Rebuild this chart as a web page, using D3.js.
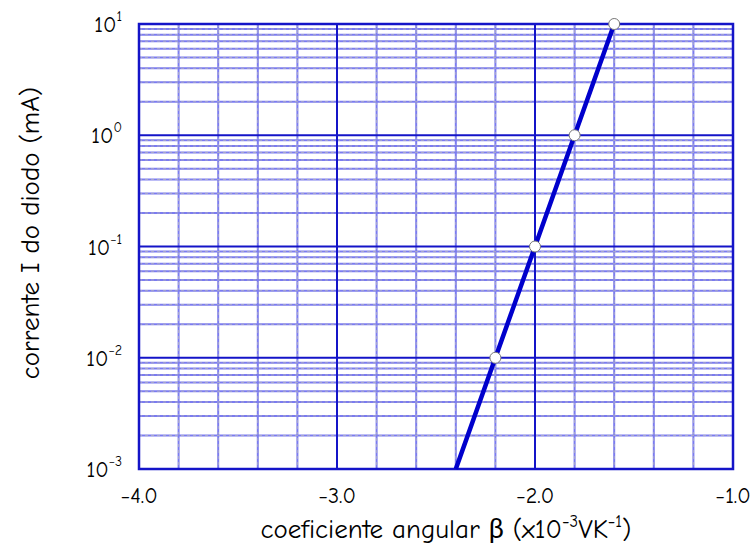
<!DOCTYPE html>
<html><head><meta charset="utf-8">
<script src="https://cdn.jsdelivr.net/npm/d3@7"></script>
<style>body{margin:0;background:#fff}svg{display:block}text{font-family:"Comic Sans MS","Comic Neue","Lato","DejaVu Sans",sans-serif;fill:#000}</style>
</head><body>
<script>
const xTicks = [-4.0, -3.0, -2.0, -1.0];
const xTickLabels = ["\u22124.0", "\u22123.0", "\u22122.0", "\u22121.0"];
const yExps = [-3, -2, -1, 0, 1];
const lineX = [-2.4, -2.2, -2.0, -1.8, -1.6];
const lineY = [0.001, 0.01, 0.1, 1, 10];
const markerX = [-2.2, -2.0, -1.8, -1.6];
const markerY = [0.01, 0.1, 1, 10];

const W = 751, H = 550;
const m = {l: 139, r: 733, t: 24, b: 469};
const svg = d3.select("body").append("svg").attr("width", W).attr("height", H);
const x = d3.scaleLinear().domain([-4, -1]).range([m.l, m.r]);
const y = d3.scaleLog().domain([1e-3, 10]).range([m.b, m.t]);

const g = svg.append("g");
const xMinor = d3.range(-3.8, -1.0, 0.2).map(v => +v.toFixed(1)).filter(v => !xTicks.includes(v));
g.selectAll(".xm").data(xMinor).join("line")
  .attr("x1", d => x(d)).attr("x2", d => x(d)).attr("y1", m.t).attr("y2", m.b)
  .attr("stroke", "#7c7cf0").attr("stroke-width", 2);
g.selectAll(".xmd").data(xMinor).join("line")
  .attr("x1", d => x(d)).attr("x2", d => x(d)).attr("y1", m.t).attr("y2", m.b)
  .attr("stroke", "#a8a8c8").attr("stroke-width", 1).attr("stroke-dasharray", "3,3");
const yMinor = [];
yExps.slice(0, -1).forEach(e => { for (let k = 2; k <= 9; k++) yMinor.push(k * Math.pow(10, e)); });
g.selectAll(".ym").data(yMinor).join("line")
  .attr("x1", m.l).attr("x2", m.r).attr("y1", d => y(d)).attr("y2", d => y(d))
  .attr("stroke", "#7c7cf0").attr("stroke-width", 2);
g.selectAll(".ymd").data(yMinor).join("line")
  .attr("x1", m.l).attr("x2", m.r).attr("y1", d => y(d)).attr("y2", d => y(d))
  .attr("stroke", "#a8a8c8").attr("stroke-width", 1).attr("stroke-dasharray", "3,3");
g.selectAll(".xM").data(xTicks).join("line")
  .attr("x1", d => x(d)).attr("x2", d => x(d)).attr("y1", m.t).attr("y2", m.b)
  .attr("stroke", "#1414c8").attr("stroke-width", 2);
g.selectAll(".yM").data(yExps).join("line")
  .attr("x1", m.l).attr("x2", m.r).attr("y1", d => y(Math.pow(10, d))).attr("y2", d => y(Math.pow(10, d)))
  .attr("stroke", "#1414c8").attr("stroke-width", 2);
svg.append("rect").attr("x", m.l).attr("y", m.t).attr("width", m.r - m.l).attr("height", m.b - m.t)
  .attr("fill", "none").attr("stroke", "#1414c8").attr("stroke-width", 2.5);

const pts = lineX.map((v, i) => [v, lineY[i]]);
svg.append("path").attr("d", d3.line().x(d => x(d[0])).y(d => y(d[1]))(pts))
  .attr("fill", "none").attr("stroke", "#0000cc").attr("stroke-width", 4.5);
svg.selectAll(".mk").data(markerX.map((v, i) => [v, markerY[i]])).join("circle")
  .attr("cx", d => x(d[0])).attr("cy", d => y(d[1])).attr("r", 5.5)
  .attr("fill", "#fff").attr("stroke", "#777").attr("stroke-width", 1);

svg.selectAll(".xl").data(xTicks).join("text")
  .attr("x", d => x(d)).attr("y", 503).attr("text-anchor", "middle")
  .attr("font-size", 22).text((d, i) => xTickLabels[i]);
yExps.forEach(e => {
  const t = svg.append("text").attr("x", 122).attr("y", y(Math.pow(10, e)) + 8)
    .attr("text-anchor", "end").attr("font-size", 22);
  t.append("tspan").text("10");
  t.append("tspan").attr("dy", -11).attr("font-size", 14).text(e < 0 ? "\u2212" + (-e) : String(e));
});
const xt = svg.append("text").attr("x", 446).attr("y", 538).attr("text-anchor", "middle").attr("font-size", 27);
xt.append("tspan").text("coeficiente angular \u03b2 (x10");
xt.append("tspan").attr("dy", -11).attr("font-size", 17).text("\u22123");
xt.append("tspan").attr("dy", 11).text("VK");
xt.append("tspan").attr("dy", -11).attr("font-size", 17).text("\u22121");
xt.append("tspan").attr("dy", 11).text(")");
svg.append("text").attr("transform", "translate(39,233) rotate(-90)").attr("text-anchor", "middle")
  .attr("font-size", 27).text("corrente I do diodo (mA)");
</script>
</body></html>
